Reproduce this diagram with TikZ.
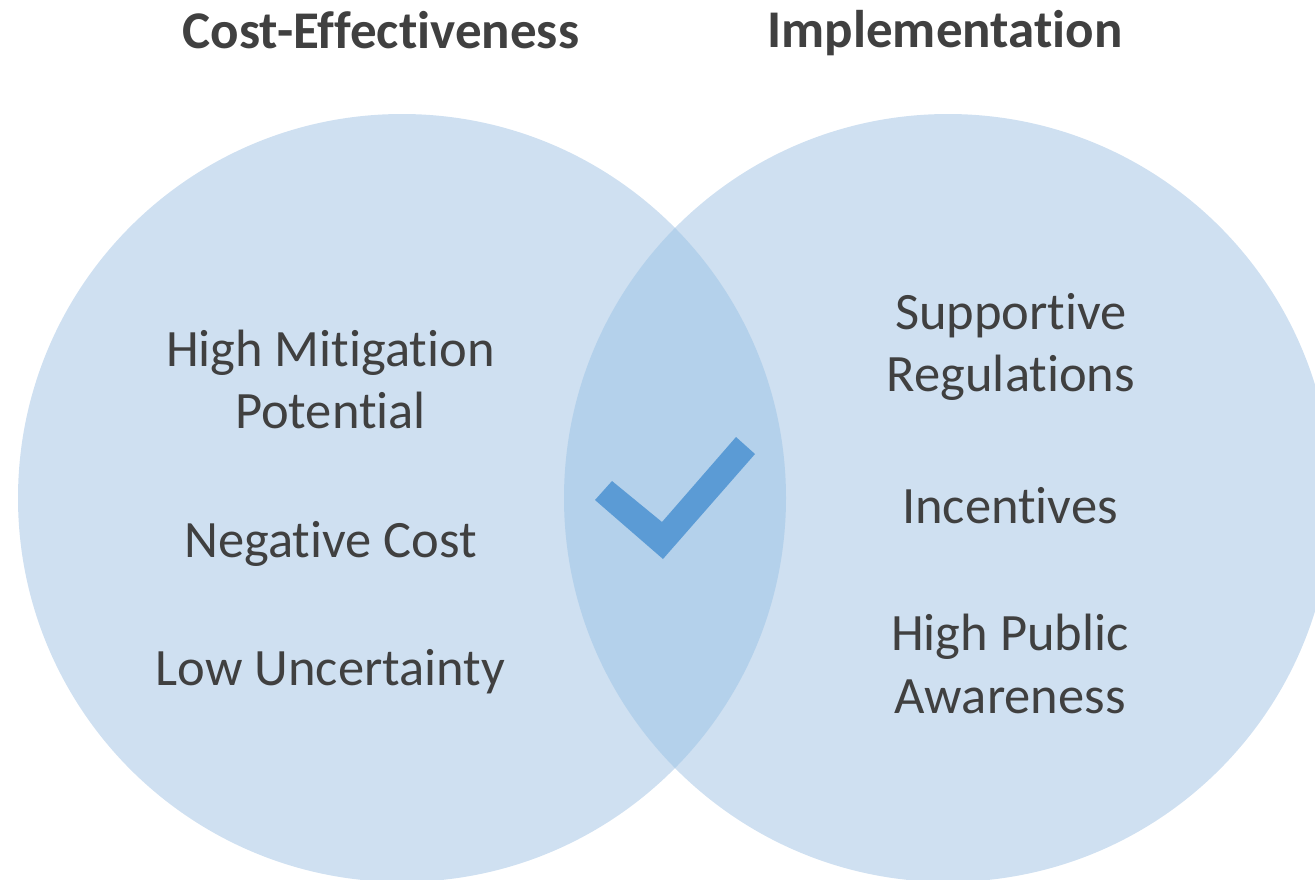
\documentclass[tikz,border=0pt]{standalone}
\usepackage{fontspec}
\setmainfont{Carlito}[Ligatures={NoCommon}]
\definecolor{circfill}{HTML}{CFE0F1}
\definecolor{overlapfill}{HTML}{B4D1EB}
\definecolor{checkblue}{HTML}{5B9BD5}
\definecolor{txt}{HTML}{404040}
\begin{document}
\begin{tikzpicture}[x=1pt,y=-1pt,
  title/.style={font=\fontsize{53}{60}\selectfont\bfseries, text=txt, anchor=base, inner sep=0pt},
  item/.style={font=\fontsize{52.5}{60}\selectfont, text=txt, anchor=base, inner sep=0pt}]
\useasboundingbox (0,0) rectangle (1315,879);
\begin{scope}
\clip (0,0) rectangle (1315,879);
\fill[circfill] (402,498) circle[radius=384];
\fill[circfill] (948,498) circle[radius=384];
\begin{scope}
\clip (402,498) circle[radius=384];
\fill[overlapfill] (948,498) circle[radius=384];
\end{scope}
\end{scope}
\fill[checkblue] (595,500) -- (612,481) -- (662,522) -- (736,437) -- (755,454) -- (663,559) -- cycle;
\node[title] (t1) at (381,48) {Cost-Effectiveness};
\node[title] (t2) at (945,47) {Implementation};
\node[item] (l1) at (330.5,366) {High Mitigation};
\node[item] (l2) at (330.5,428) {Potential};
\node[item] (l3) at (330.5,557) {Negative Cost};
\node[item] (l4) at (330.5,685) {Low Uncertainty};
\node[item] (r1) at (1011,329) {Supportive};
\node[item] (r2) at (1011,391) {Regulations};
\node[item] (r3) at (1010,523) {Incentives};
\node[item] (r4) at (1010,650) {High Public};
\node[item] (r5) at (1010,713) {Awareness};
\end{tikzpicture}
\end{document}
